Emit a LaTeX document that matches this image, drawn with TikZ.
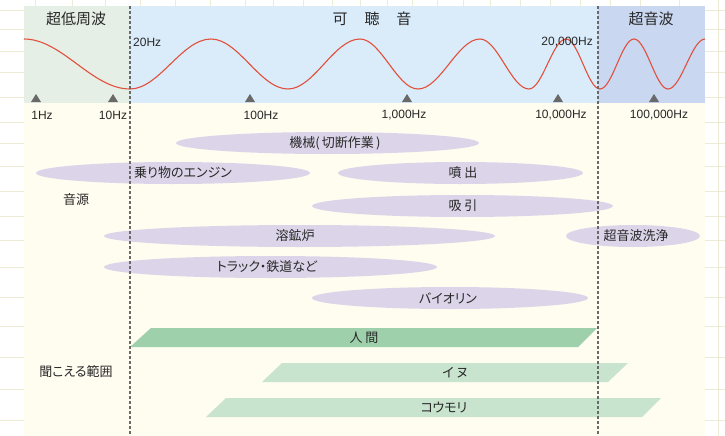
\documentclass[tikz,border=0pt]{standalone}
\usepackage{fontspec}
\setmainfont{Noto Sans CJK JP}[RawFeature=+palt]
\newfontfamily\hzfont{Liberation Sans}
\usepackage{tikz}
\usetikzlibrary{shapes.geometric}
\definecolor{gridline}{RGB}{238,235,212}
\definecolor{panelcream}{RGB}{255,252,240}
\definecolor{infragreen}{RGB}{230,239,230}
\definecolor{audibleblue}{RGB}{218,236,250}
\definecolor{ultrablue}{RGB}{201,216,240}
\definecolor{srcpurple}{RGB}{220,213,234}
\definecolor{humangreen}{RGB}{158,209,171}
\definecolor{animalgreen}{RGB}{200,228,206}
\definecolor{wavered}{RGB}{226,80,60}
\definecolor{tickgray}{RGB}{105,105,105}
\definecolor{textdark}{RGB}{40,40,40}

\begin{document}
\begin{tikzpicture}[x=1pt, y=-1pt,
    srcoval/.style={ellipse, fill=srcpurple, inner sep=0pt, minimum height=22pt},
    jplabel/.style={font=\fontsize{13}{15}\selectfont, text=textdark, inner sep=0pt},
    headlabel/.style={font=\fontsize{15}{17}\selectfont, text=textdark, inner sep=0pt},
    hzlabel/.style={font=\hzfont\fontsize{12}{14}\selectfont, text=textdark, inner sep=0pt},
    boundary/.style={tickgray, line width=1.5pt, dash pattern=on 3pt off 2pt}]
    \useasboundingbox (0,0) rectangle (725,436);
    \fill[white] (0,0) rectangle (725,436);

    % Sheet grid
    \foreach \y in {10,29,51,72,97,122,143,166,191,216,240,267,297,326,357,389,420} {
        \draw[gridline] (0,\y) -- (725,\y);
    }
    \foreach \x in {35,72,105,140,175,210,245,273,303,332,360,387,412,437,463,490,520,550,580,610,640,679,718} {
        \draw[gridline] (\x,0) -- (\x,436);
    }

    % Panels
    \fill[panelcream] (24,6) rectangle (705,436);
    \fill[infragreen] (24,6) rectangle (130,103);
    \fill[audibleblue] (130,6) rectangle (598,103);
    \fill[ultrablue] (598,6) rectangle (705,103);

    % Band titles
    \node[headlabel] (infra) at (76,19) {超低周波};
    \node[headlabel] (audible) at (372,19) {可\hspace{17pt}聴\hspace{17pt}音};
    \node[headlabel] (ultra) at (651,19) {超音波};

    % Sound wave (rising frequency)
    \foreach \xa/\xb/\ya/\yb in {24/130/39/89, 130/211/89/39, 211/288/39/89,
        288/360/89/39, 360/418/39/89, 418/480/89/39, 480/529/39/89,
        529/566/89/39, 566/600/39/89, 600/634/89/39, 634/668/39/89, 668/705/89/39} {
        \draw[wavered, line width=1.1pt]
            (\xa,\ya) .. controls ({\xa+0.36*(\xb-\xa)},\ya) and ({\xb-0.36*(\xb-\xa)},\yb) .. (\xb,\yb);
    }

    % Limits of hearing
    \node[hzlabel, anchor=west] (low) at (133,42) {20Hz};
    \node[hzlabel, anchor=east] (high) at (593,42) {20,000Hz};

    % Frequency ticks
    \foreach \tx/\lx/\txt [count=\i] in {36/42/1Hz, 113/113/10Hz, 250/261/100Hz,
        407/404/{1,000Hz}, 558/561/{10,000Hz}, 654/659/{100,000Hz}} {
        \fill[tickgray] (\tx-5,102) -- (\tx+5,102) -- (\tx,94) -- cycle;
        \node[hzlabel] (hz\i) at (\lx,115) {\txt};
    }

    % Sound sources
    \node[srcoval, minimum width=303pt] (machine) at (327.5,143) {};
    \node[jplabel] (machinetxt) at (335,143) {機械(\,切断作業\,)};
    \node[srcoval, minimum width=274pt] (engine) at (173,173) {};
    \node[jplabel] (enginetxt) at (183,173) {乗り物のエンジン};
    \node[srcoval, minimum width=245pt] (spray) at (460.5,173) {};
    \node[jplabel] (spraytxt) at (463,173) {噴 出};
    \node[srcoval, minimum width=301pt] (suction) at (462.5,206) {};
    \node[jplabel] (suctiontxt) at (463,206) {吸 引};
    \node[srcoval, minimum width=391pt] (furnace) at (299.5,236) {};
    \node[jplabel] (furnacetxt) at (295,236) {溶鉱炉};
    \node[srcoval, minimum width=134pt] (cleaner) at (633,236) {};
    \node[jplabel] (cleanertxt) at (636,236) {超音波洗浄};
    \node[srcoval, minimum width=333pt] (traffic) at (270.5,267) {};
    \node[jplabel] (traffictxt) at (267,267) {トラック・鉄道など};
    \node[srcoval, minimum width=276pt] (violin) at (450,298) {};
    \node[jplabel] (violintxt) at (448,298) {バイオリン};

    % Hearing ranges
    \fill[humangreen] (130,347) -- (151,328) -- (597,328) -- (578,347) -- cycle;
    \node[jplabel] (human) at (364,337.5) {人 間};
    \fill[animalgreen] (262,382) -- (282,363) -- (628,363) -- (608,382) -- cycle;
    \node[jplabel] (dog) at (455,372.5) {イ ヌ};
    \fill[animalgreen] (206,417) -- (226,398) -- (661,398) -- (642,417) -- cycle;
    \node[jplabel] (bat) at (444,407.5) {コウモリ};

    % Row titles
    \node[jplabel] (sources) at (76,200) {音源};
    \node[jplabel] (ranges) at (76,372) {聞こえる範囲};

    % 20Hz and 20,000Hz boundaries
    \draw[boundary] (130,6) -- (130,436);
    \draw[boundary] (598,6) -- (598,436);
\end{tikzpicture}
\end{document}
